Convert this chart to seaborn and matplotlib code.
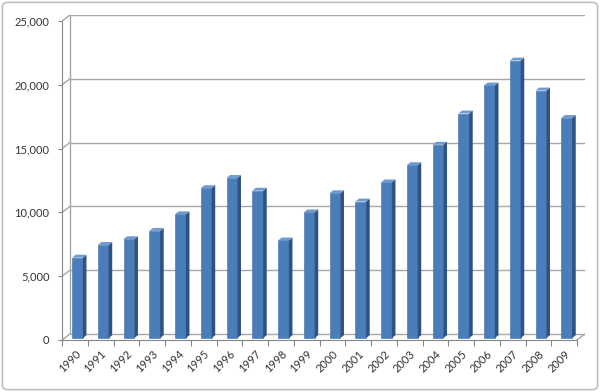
import numpy as np
import pandas as pd
import matplotlib
matplotlib.use("Agg")
import matplotlib.pyplot as plt
import seaborn as sns
from matplotlib.patches import Polygon, FancyBboxPatch

# 데이터
years = [str(y) for y in range(1990, 2010)]
values = [6300, 7300, 7750, 8400, 9700, 11750, 12550, 11550, 7650, 9850,
          11350, 10700, 12200, 13550, 15150, 17600, 19800, 21750, 19400, 17250]
yticks = [0, 5000, 10000, 15000, 20000, 25000]

data = pd.DataFrame({"year": years, "value": values})

sns.set_theme(style="white")
plt.rcParams['font.family'] = ['Lato', 'DejaVu Sans']

fig = plt.figure(figsize=(6, 3.92), dpi=100)
ax = fig.add_axes([62 / 600, 52 / 392, 523 / 600, 325 / 392])

# 3D 느낌용 오프셋 (뒷벽)
dx, dy = 0.31, 470
grid_col = "#A6A6A6"
n = len(years)

sns.barplot(data=data, x="year", y="value", color="#4A7EBB", saturation=1,
            width=0.42, ax=ax, zorder=3, edgecolor="#3F6CA3", linewidth=0.4)

# 막대 옆면/윗면 (막대는 깊이 중간쯤에 있으므로 약간 오른쪽/위로)
bdx, bdy = 0.14, 230
for p in ax.patches:
    p.set_x(p.get_x() + 0.1)
    p.set_y(150)
    x0, w, h = p.get_x(), p.get_width(), p.get_height()
    x1 = x0 + w
    y0, yt = 150, 150 + h
    side = Polygon([(x1, y0), (x1 + bdx, y0 + bdy), (x1 + bdx, yt + bdy), (x1, yt)],
                   closed=True, facecolor="#2E5283", edgecolor="none", zorder=3)
    top = Polygon([(x0, yt), (x1, yt), (x1 + bdx, yt + bdy), (x0 + bdx, yt + bdy)],
                  closed=True, facecolor="#6F9AD0", edgecolor="none", zorder=3)
    ax.add_patch(side)
    ax.add_patch(top)

# 뒷벽 격자선
for v in yticks:
    ax.plot([-0.5 + dx, n - 0.5 + dx], [v + dy, v + dy], color=grid_col, lw=1, zorder=1)
    ax.plot([-0.5, -0.5 + dx], [v, v + dy], color=grid_col, lw=1, zorder=1)
ax.plot([-0.5 + dx, -0.5 + dx], [dy, yticks[-1] + dy], color=grid_col, lw=1, zorder=1)
ax.plot([n - 0.5, n - 0.5 + dx], [0, dy], color=grid_col, lw=1, zorder=1)

ax.set_xlim(-0.5, n - 0.5 + dx)
ax.set_ylim(0, yticks[-1] + dy)

ax.set_yticks(yticks)
ax.set_yticklabels([f"{v:,}" for v in yticks], fontsize=8, color="#333333")
ax.set_xticks(range(n))
ax.set_xticklabels(years, rotation=45, ha="right", rotation_mode="anchor",
                   fontsize=8, color="#333333")
ax.set_xticks(np.arange(-0.5, n), minor=True)
ax.tick_params(axis="x", which="major", length=0, pad=6)
ax.tick_params(axis="x", which="minor", length=4, width=0.8, color="#868686", bottom=True)
ax.tick_params(axis="y", length=3, width=0.8, color="#868686", pad=6, left=True)
ax.set_xlabel("")
ax.set_ylabel("")

for s in ["top", "right"]:
    ax.spines[s].set_visible(False)
ax.spines["left"].set_bounds(0, yticks[-1])
ax.spines["bottom"].set_bounds(-0.5, n - 0.5)
for s in ["left", "bottom"]:
    ax.spines[s].set_color("#868686")
    ax.spines[s].set_linewidth(0.8)

# 차트 외곽 테두리
border = FancyBboxPatch((0.004, 0.006), 0.992, 0.988, boxstyle="round,pad=0,rounding_size=0.01",
                        transform=fig.transFigure, facecolor="none", edgecolor="#BFBFBF", lw=1.2)
fig.patches.append(border)

fig.savefig("out.png", dpi=100)
